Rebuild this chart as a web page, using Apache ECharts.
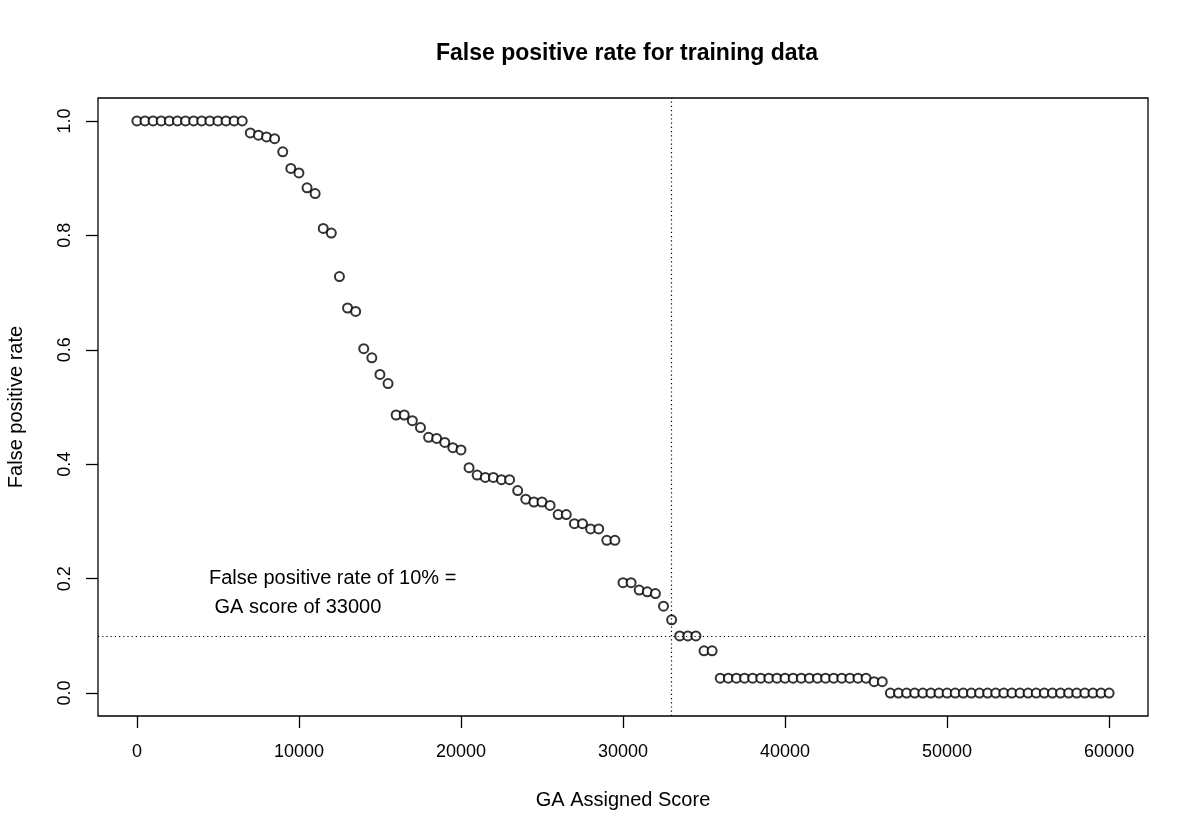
<!DOCTYPE html>
<html>
<head>
<meta charset="utf-8">
<title>False positive rate for training data</title>
<script src="https://cdn.jsdelivr.net/npm/echarts@6/dist/echarts.min.js"></script>
<style>
  html, body { margin: 0; padding: 0; background: #fff; }
  #chart { width: 1200px; height: 840px; }
</style>
</head>
<body>
<div id="chart"></div>
<script>
// GA assigned score (x) for each point
var scores = [
  0, 500, 1000, 1500, 2000, 2500, 3000, 3500, 4000, 4500,
  5000, 5500, 6000, 6500, 7000, 7500, 8000, 8500, 9000, 9500,
  10000, 10500, 11000, 11500, 12000, 12500, 13000, 13500, 14000, 14500,
  15000, 15500, 16000, 16500, 17000, 17500, 18000, 18500, 19000, 19500,
  20000, 20500, 21000, 21500, 22000, 22500, 23000, 23500, 24000, 24500,
  25000, 25500, 26000, 26500, 27000, 27500, 28000, 28500, 29000, 29500,
  30000, 30500, 31000, 31500, 32000, 32500, 33000, 33500, 34000, 34500,
  35000, 35500, 36000, 36500, 37000, 37500, 38000, 38500, 39000, 39500,
  40000, 40500, 41000, 41500, 42000, 42500, 43000, 43500, 44000, 44500,
  45000, 45500, 46000, 46500, 47000, 47500, 48000, 48500, 49000, 49500,
  50000, 50500, 51000, 51500, 52000, 52500, 53000, 53500, 54000, 54500,
  55000, 55500, 56000, 56500, 57000, 57500, 58000, 58500, 59000, 59500,
  60000
]

// false positive rate
var fpRate = [
  1, 1, 1, 1, 1, 1, 1, 1, 1, 1,
  1, 1, 1, 1, 0.979, 0.975, 0.972, 0.969, 0.946, 0.917,
  0.909, 0.883, 0.873, 0.812, 0.804, 0.728, 0.673, 0.667, 0.602, 0.586,
  0.557, 0.541, 0.486, 0.486, 0.476, 0.464, 0.447, 0.445, 0.438, 0.429,
  0.425, 0.394, 0.381, 0.377, 0.377, 0.373, 0.373, 0.354, 0.339, 0.334,
  0.334, 0.328, 0.312, 0.312, 0.296, 0.296, 0.287, 0.287, 0.267, 0.267,
  0.193, 0.193, 0.180, 0.177, 0.174, 0.152, 0.128, 0.100, 0.100, 0.100,
  0.074, 0.074, 0.026, 0.026, 0.026, 0.026, 0.026, 0.026, 0.026, 0.026,
  0.026, 0.026, 0.026, 0.026, 0.026, 0.026, 0.026, 0.026, 0.026, 0.026,
  0.026, 0.020, 0.020, 0, 0, 0, 0, 0, 0, 0,
  0, 0, 0, 0, 0, 0, 0, 0, 0, 0,
  0, 0, 0, 0, 0, 0, 0, 0, 0, 0,
  0
]

var xTicks = [0, 10000, 20000, 30000, 40000, 50000, 60000]
var yTicks = [0, 0.2, 0.4, 0.6, 0.8, 1.0]

// cut-off lines
var cutScore = 33000
var cutRate = 0.1

var points = scores.map(function (s, i) { return [s, fpRate[i]] })

var font = 'Liberation Sans, Arial, Helvetica, sans-serif'

var myChart = echarts.init(document.getElementById('chart'))

myChart.setOption({
  animation: false,
  backgroundColor: '#fff',
  title: {
    text: 'False positive rate for training data',
    left: 622,
    top: 37,
    textAlign: 'center',
    textStyle: { fontFamily: font, fontSize: 23, fontWeight: 'bold', color: '#000' }
  },
  grid: {
    left: 98,
    top: 98,
    width: 1050,
    height: 618,
    // keep the plot box where it is, do not squeeze it for the labels
    outerBoundsMode: 'none',
    show: true,
    borderColor: '#000',
    borderWidth: 1.3,
    backgroundColor: 'transparent'
  },
  xAxis: {
    type: 'value',
    min: -2400,
    max: 62400,
    name: 'GA Assigned Score',
    nameLocation: 'middle',
    nameGap: 74,
    nameTextStyle: { fontFamily: font, fontSize: 20, color: '#000' },
    axisLine: { show: false, onZero: false },
    splitLine: { show: false },
    axisTick: {
      show: true,
      inside: false,
      length: 12,
      customValues: xTicks,
      lineStyle: { color: '#000', width: 1.3 }
    },
    axisLabel: {
      customValues: xTicks,
      margin: 27,
      fontFamily: font,
      fontSize: 18,
      color: '#000',
      formatter: function (v) { return String(v) }
    }
  },
  yAxis: {
    type: 'value',
    min: -0.04,
    max: 1.04,
    name: 'False positive rate',
    nameLocation: 'middle',
    nameGap: 72,
    nameRotate: 90,
    nameTextStyle: { fontFamily: font, fontSize: 20, color: '#000' },
    axisLine: { show: false, onZero: false },
    splitLine: { show: false },
    axisTick: {
      show: true,
      inside: false,
      length: 12,
      customValues: yTicks,
      lineStyle: { color: '#000', width: 1.3 }
    },
    axisLabel: {
      customValues: yTicks,
      rotate: 90,
      margin: 24,
      fontFamily: font,
      fontSize: 18,
      color: '#000',
      formatter: function (v) { return v.toFixed(1) }
    }
  },
  graphic: [
    {
      type: 'text',
      left: 209,
      top: 568,
      style: { text: 'False positive rate of 10% =', font: '20px ' + font, fill: '#000' }
    },
    {
      type: 'text',
      left: 209,
      top: 597,
      style: { text: ' GA score of 33000', font: '20px ' + font, fill: '#000' }
    }
  ],
  series: [
    {
      type: 'scatter',
      data: points,
      symbol: 'emptyCircle',
      symbolSize: 9,
      // emptyCircle strokes with the item colour
      itemStyle: { color: '#000', borderWidth: 1.5 },
      markLine: {
        silent: true,
        symbol: 'none',
        label: { show: false },
        lineStyle: { color: '#000', width: 1.2, type: [1.2, 3] },
        data: [
          { xAxis: cutScore },
          { yAxis: cutRate }
        ]
      }
    }
  ]
})
</script>
</body>
</html>
